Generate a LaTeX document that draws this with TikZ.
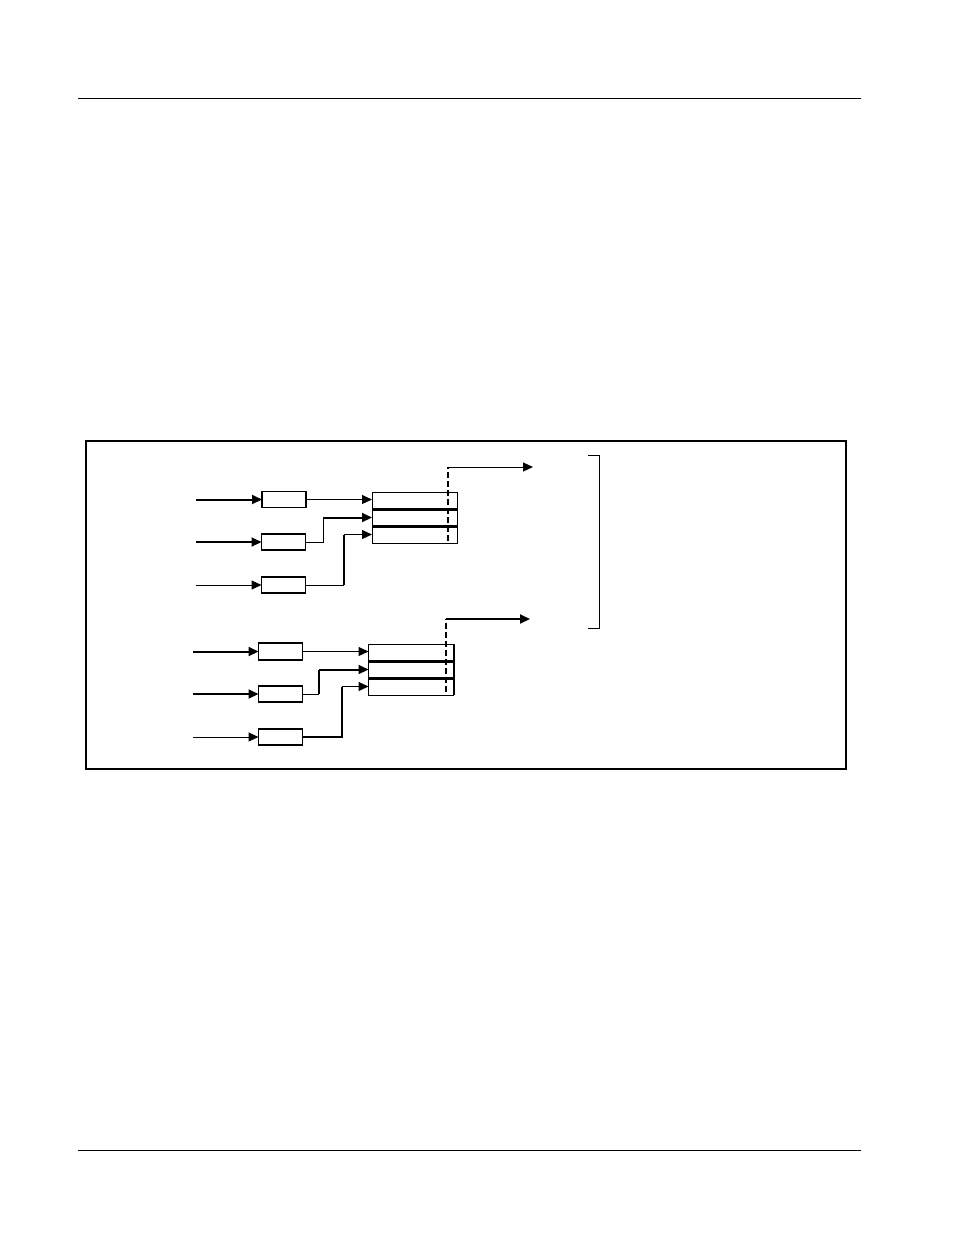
\documentclass[tikz,border=0pt]{standalone}
\usetikzlibrary{arrows.meta,positioning}
\tikzstyle{reg} = [rectangle, draw=black, line width=1.5pt, inner sep=0pt, outer sep=0pt, minimum width=44pt, minimum height=16pt]
\tikzstyle{slot} = [rectangle, draw=black, line width=1pt, inner sep=0pt, outer sep=0pt, minimum width=85pt, minimum height=17pt]
\tikzstyle{arrow} = [line width=2pt, -{Triangle[length=10pt,width=9pt]}]
\tikzstyle{thinarrow} = [line width=1pt, -{Triangle[length=10pt,width=9pt]}]
\tikzstyle{wire} = [line width=1pt]
\tikzstyle{bus} = [line width=2pt]
\tikzstyle{divider} = [line width=3pt]
\tikzstyle{select} = [line width=2pt, dash pattern=on 6pt off 3pt]
\begin{document}
\begin{tikzpicture}[x=1pt, y=-1pt]
    \useasboundingbox (0,0) rectangle (954,1235);

    % page rules and frame
    \draw[wire] (78,98) -- (861,98);
    \draw[wire] (78,1150) -- (861,1150);
    \draw[line width=1.3pt] (86,441) rectangle (846,769);

    % upper group
    \node (reg0) [reg] at (284,499.5) {};
    \node (reg1) [reg] at (283.5,542) {};
    \node (reg2) [reg] at (283.5,585) {};

    \node (slot0) [slot] at (414.5,500.5) {};
    \node (slot1) [slot, below=0pt of slot0] {};
    \node (slot2) [slot, below=0pt of slot1] {};
    \draw[divider] (slot0.south west) -- (slot0.south east);
    \draw[divider] (slot1.south west) -- (slot1.south east);

    \coordinate (src0) at (196,499.5);
    \coordinate (src1) at (196,542);
    \coordinate (src2) at (196,585);
    \coordinate (jA1) at (323,542);
    \coordinate (jA2) at (344,585);
    \coordinate (selA) at (448,541);
    \coordinate (outA) at (533,467);

    \draw [arrow] (src0) -- (reg0.west);
    \draw [arrow] (src1) -- (reg1.west);
    \draw [thinarrow] (src2) -- (reg2.west);
    \draw [thinarrow] (reg0.east) -- (reg0.east -| slot0.west);
    \draw [wire] (reg1.east) -- (jA1) -- (jA1 |- slot1.west);
    \draw [arrow] (jA1 |- slot1.west) -- (slot1.west);
    \draw [wire] (reg2.east) -- (jA2);
    \draw [bus] (jA2) -- (jA2 |- slot2.west);
    \draw [thinarrow] (jA2 |- slot2.west) -- (slot2.west);
    \draw [select] (selA) -- (selA |- outA);
    \draw [thinarrow] (selA |- outA) -- (outA);

    % lower group
    \node (reg3) [reg, minimum height=17pt] at (280.5,651.5) {};
    \node (reg4) [reg] at (280.5,694) {};
    \node (reg5) [reg] at (280.5,737) {};

    \node (slot3) [slot] at (411,652.5) {};
    \node (slot4) [slot, below=0pt of slot3] {};
    \node (slot5) [slot, below=0pt of slot4] {};
    \draw[divider] (slot3.south west) -- (slot3.south east);
    \draw[divider] (slot4.south west) -- (slot4.south east);
    \draw[line width=2pt] (slot3.north east) -- (slot5.south east);

    \coordinate (src3) at (193,651.5);
    \coordinate (src4) at (193,694);
    \coordinate (src5) at (193,737);
    \coordinate (jB1) at (319,694);
    \coordinate (jB2) at (342,737);
    \coordinate (selB) at (446,692);
    \coordinate (outB) at (530,619);

    \draw [arrow] (src3) -- (reg3.west);
    \draw [arrow] (src4) -- (reg4.west);
    \draw [thinarrow] (src5) -- (reg5.west);
    \draw [thinarrow] (reg3.east) -- (reg3.east -| slot3.west);
    \draw [wire] (reg4.east) -- (jB1);
    \draw [bus] (jB1) -- (jB1 |- slot4.west);
    \draw [arrow] (jB1 |- slot4.west) -- (slot4.west);
    \draw [bus] (reg5.east) -- (jB2) -- (jB2 |- slot5.west);
    \draw [thinarrow] (jB2 |- slot5.west) -- (slot5.west);
    \draw [select] (selB) -- (selB |- outB);
    \draw [arrow] (selB |- outB) -- (outB);

    % bracket
    \draw [wire] (588,455) -- (599,455) -- (599,628) -- (588,628);
\end{tikzpicture}
\end{document}
